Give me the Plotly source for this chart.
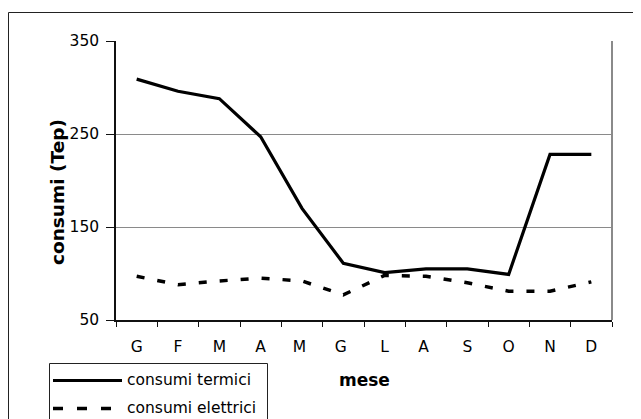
import plotly.graph_objects as go

mesi = ["G", "F", "M", "A", "M ", "G ", "L", "A ", "S", "O", "N", "D"]
consumi_termici = [309, 296, 288, 247, 170, 111, 101, 105, 105, 99, 228, 228]
consumi_elettrici = [97, 88, 92, 95, 92, 77, 98, 97, 90, 81, 81, 91]
y_ticks = [50, 150, 250, 350]
serie = ["consumi termici", "consumi elettrici"]

# the page body has an 8px margin; plot area wanted at page coords 116..612 x 41..320
OFF = 8
W, H = 641, 419
PX0, PX1, PY0, PY1 = 116, 612, 41, 320
L, R, T, B = PX0 - OFF, W - (PX1 - OFF), PY0 - OFF, H - (PY1 - OFF)
pw, ph = PX1 - PX0, PY1 - PY0
def px(x):
    return (x - PX0) / pw
def py(y):
    return (PY1 - y) / ph

FONT = "DejaVu Sans"
DASH_PLOT = "8px,13px"
DASH_LEG = "10px,14px"

fig = go.Figure()
fig.add_trace(go.Scatter(x=mesi, y=consumi_termici, mode="lines", name=serie[0],
                         line=dict(color="black", width=3.2)))
fig.add_trace(go.Scatter(x=mesi, y=consumi_elettrici, mode="lines", name=serie[1],
                         line=dict(color="black", width=3.5, dash=DASH_PLOT)))

shapes = [
    dict(type="line", xref="paper", yref="paper", x0=1, x1=1, y0=0, y1=1,
         line=dict(color="#8a8a8a", width=2)),
    dict(type="rect", xref="paper", yref="paper", x0=px(8.5), x1=px(700),
         y0=py(500), y1=py(12.5), line=dict(color="#222222", width=1),
         layer="below"),
    dict(type="rect", xref="paper", yref="paper", x0=px(49.5), x1=px(267.5),
         y0=py(470), y1=py(363.5), line=dict(color="#222222", width=1),
         fillcolor="white", layer="above"),
    dict(type="line", xref="paper", yref="paper", x0=px(53), x1=px(122),
         y0=py(380.5), y1=py(380.5), line=dict(color="black", width=3.2)),
    dict(type="line", xref="paper", yref="paper", x0=px(53), x1=px(122),
         y0=py(408.5), y1=py(408.5), line=dict(color="black", width=3.5, dash=DASH_LEG)),
]

annotations = [
    dict(text="<b>consumi (Tep)</b>", xref="paper", yref="paper",
         x=px(57), y=py(192), textangle=-90, showarrow=False,
         xanchor="center", yanchor="middle",
         font=dict(family=FONT, size=18.5)),
    dict(text="<b>mese</b>", xref="paper", yref="paper",
         x=px(364), y=py(380), showarrow=False,
         xanchor="center", yanchor="middle",
         font=dict(family=FONT, size=17)),
    dict(text=serie[0], xref="paper", yref="paper", x=px(125), y=py(380),
         xanchor="left", yanchor="middle", showarrow=False,
         font=dict(family=FONT, size=15.5)),
    dict(text=serie[1], xref="paper", yref="paper", x=px(125), y=py(408),
         xanchor="left", yanchor="middle", showarrow=False,
         font=dict(family=FONT, size=15.5)),
]

fig.update_layout(
    width=W, height=H,
    margin=dict(l=L, r=R, t=T, b=B, autoexpand=False),
    paper_bgcolor="white", plot_bgcolor="white",
    font=dict(family=FONT, size=15, color="black"),
    showlegend=False,
    xaxis=dict(type="category", showline=True, linecolor="#111111", linewidth=1.5,
               ticks="outside", tickson="boundaries", ticklen=5, tickcolor="#111111",
               showgrid=False, tickfont=dict(size=15.5), range=[-0.5, 11.5],
               ticklabelstandoff=12),
    yaxis=dict(range=[50, 350], tickvals=y_ticks, showline=True, linecolor="#111111",
               linewidth=1.5, ticks="outside", ticklen=8, tickcolor="#111111",
               showgrid=True, gridcolor="#8a8a8a", gridwidth=1.2, zeroline=False,
               tickfont=dict(size=15.5), ticklabelstandoff=4),
    shapes=shapes,
    annotations=annotations,
)

fig.write_html("out.html")
